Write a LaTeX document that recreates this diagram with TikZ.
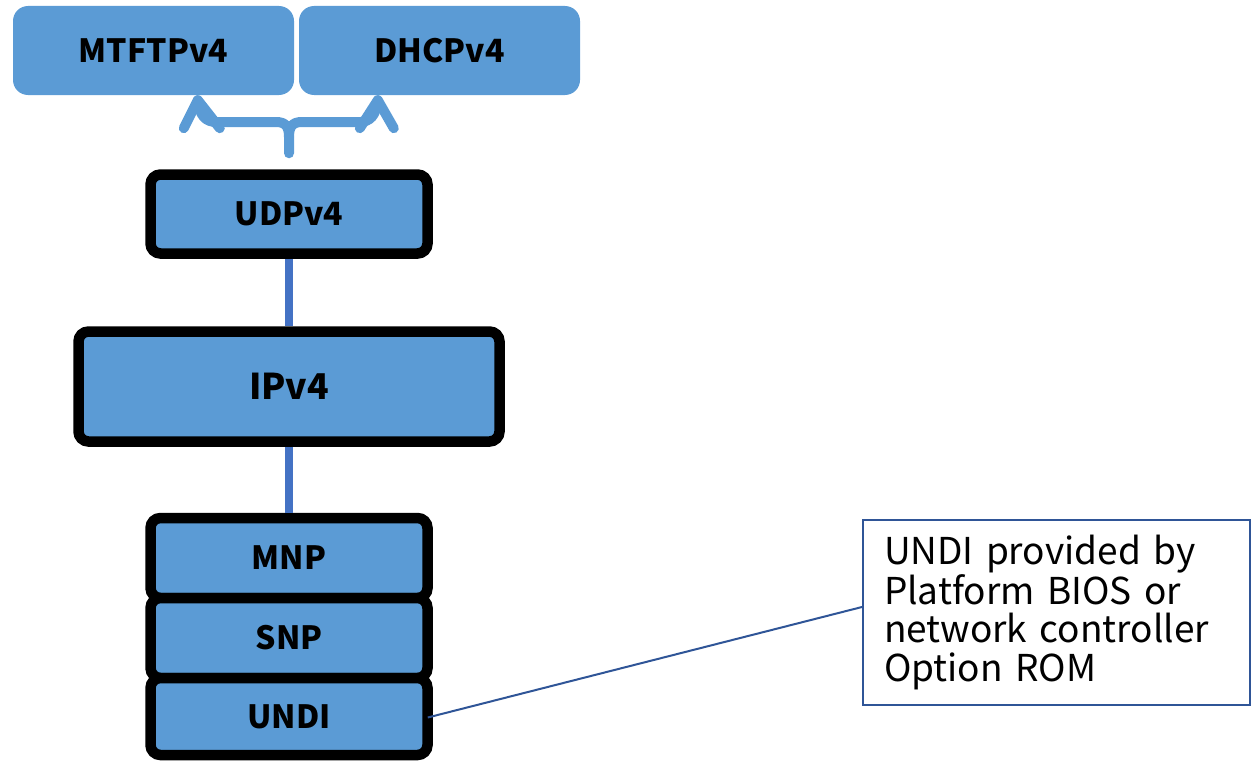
\documentclass[tikz,border=0pt]{standalone}
\usepackage{fontspec}
\setmainfont{Noto Sans CJK SC}
\usetikzlibrary{calc}
\definecolor{layerblue}{HTML}{5B9BD5}
\definecolor{linkblue}{HTML}{4472C4}
\definecolor{noteblue}{HTML}{2F5597}
\tikzset{
  toplayer/.style={fill=layerblue, draw=none, rounded corners=15pt,
    font=\fontsize{32}{38}\selectfont\bfseries, text=black},
  stacklayer/.style={fill=layerblue, draw=black, line width=10.5pt, rounded corners=10pt,
    minimum width=277pt, font=\fontsize{32}{38}\selectfont\bfseries, text=black},
  link/.style={draw=linkblue, line width=7.5pt},
  brace/.style={draw=layerblue, line width=10pt, line cap=round, line join=round},
  note/.style={draw=noteblue, line width=2pt, fill=white, align=left,
    text width=345pt, inner xsep=21pt, minimum height=185pt,
    font=\fontsize{37}{38.5}\selectfont},
  notelink/.style={draw=noteblue, line width=2pt}
}
\begin{document}
\begin{tikzpicture}[x=1pt,y=-1pt]
\useasboundingbox (0,0) rectangle (1252,760);

% upper protocols
\node[toplayer, minimum width=281pt, minimum height=89pt] (mtftp) at (153.5,50.5) {MTFTPv4};
\node[toplayer, minimum width=281pt, minimum height=89pt] (dhcp) at (439.5,50.5) {DHCPv4};

% stacked layers
\node[stacklayer, minimum height=79pt] (udp) at (289,214) {UDPv4};
\node[stacklayer, minimum width=421pt, minimum height=110pt,
      font=\fontsize{35.5}{42}\selectfont\bfseries] (ip) at (289,386.5) {IPv4};
\node[stacklayer, minimum height=80pt] (mnp) at (289,558) {MNP};
\node[stacklayer, minimum height=80pt] (snp) at (289,638) {SNP};
\node[stacklayer, minimum height=77pt] (undi) at (289,716.5) {UNDI};

% vertical links between layers
\draw[link] (udp.south) -- (ip.north);
\draw[link] (ip.south) -- (mnp.north);

% brace from UDPv4 up to the two consumers
\coordinate (tipL) at ($(mtftp.south west)+(185,5)$);
\coordinate (tipR) at ($(dhcp.south west)+(79,5)$);
\coordinate (cusp) at ($(udp.north)+(0,-16)$);
\draw[brace] (tipL) .. controls ($(tipL)+(2,15)$) and ($(tipL)+(7,22)$) .. ($(tipL)+(20,22)$)
  -- (276,122) .. controls (286,122) and (289,127) .. (289,137) -- (cusp);
\draw[brace] (tipR) .. controls ($(tipR)+(-2,15)$) and ($(tipR)+(-7,22)$) .. ($(tipR)+(-20,22)$)
  -- (302,122) .. controls (292,122) and (289,127) .. (289,137);
\draw[brace] ($(tipL)+(-14,28)$) -- (tipL) -- ($(tipL)+(22,28)$);
\draw[brace] ($(tipR)+(-18,28)$) -- (tipR) -- ($(tipR)+(16,28)$);

% callout
\node[note] (info) at (1056.5,612.5) {UNDI provided by\\Platform BIOS or\\network controller\\Option ROM};
\draw[notelink] (undi.east) ++(-5,1) -- (info.west |- 0,607);
\end{tikzpicture}
\end{document}
